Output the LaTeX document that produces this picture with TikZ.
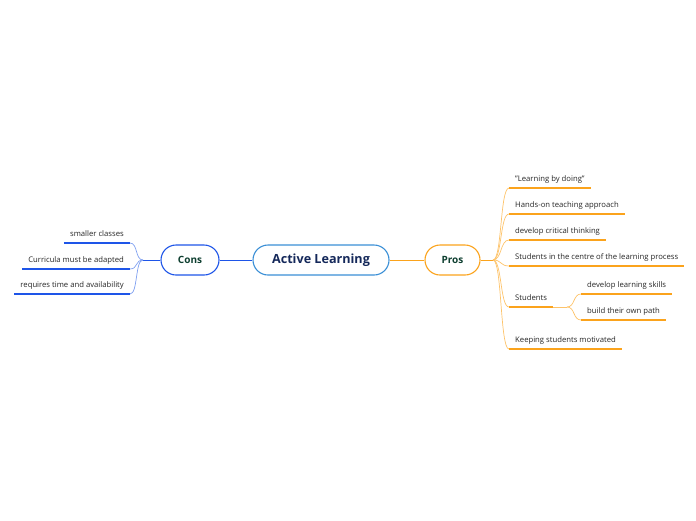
\documentclass[tikz,border=0pt]{standalone}
\usepackage{fontspec}
\setmainfont{Open Sans}
\definecolor{rootblue}{HTML}{3A8FD6}
\definecolor{rootnavy}{HTML}{14285A}
\definecolor{prosorange}{HTML}{FBA31C}
\definecolor{prosthin}{HTML}{FDC36A}
\definecolor{consblue}{HTML}{1E55E8}
\definecolor{consthin}{HTML}{7FA0F0}
\definecolor{maingreen}{HTML}{0E3F30}

\begin{document}
\begin{tikzpicture}[x=1pt,y=-1pt,
    root_node/.style={draw=rootblue, line width=1.1pt, rounded corners=15pt, minimum width=136pt, minimum height=30pt, fill=white, text=rootnavy, font=\bfseries\fontsize{12.6}{14}\selectfont},
    main_node/.style={line width=1.1pt, rounded corners=15pt, minimum height=30pt, fill=white, text=maingreen, font=\bfseries\fontsize{10}{12}\selectfont},
    leaf_node/.style={inner xsep=6pt, inner ysep=4pt, text height=6pt, text depth=2pt, text=black!85, font=\fontsize{7.7}{9}\selectfont},
    pros_line/.style={prosorange, line width=1.8pt},
    cons_line/.style={consblue, line width=1.8pt},
    pros_link/.style={prosthin, line width=0.7pt},
    cons_link/.style={consthin, line width=0.7pt}]
    \useasboundingbox (0,0) rectangle (696,520);
    % centre and main topics
    \node[root_node] (root) at (321,260) {Active Learning};
    \node[main_node, draw=prosorange, minimum width=55pt] (pros) at (452.5,260) {Pros};
    \node[main_node, draw=consblue, minimum width=58pt] (cons) at (190,260) {Cons};
    \coordinate (pj) at (493,260);
    \coordinate (cj) at (143,260);
    \draw[prosorange, line width=1pt] (root) -- (pros) -- (pj);
    \draw[consblue, line width=1pt] (root) -- (cons) -- (cj);
    % pros
    \node[leaf_node, anchor=south west] (p1) at (509,188) {"Learning by doing"};
    \node[leaf_node, anchor=south west] (p2) at (509,214) {Hands-on teaching approach};
    \node[leaf_node, anchor=south west] (p3) at (509,240) {develop critical thinking};
    \node[leaf_node, anchor=south west] (p4) at (509,266) {Students in the centre of the learning process};
    \node[leaf_node, anchor=south west] (p5) at (509,307) {Students};
    \node[leaf_node, anchor=south west] (p6) at (509,349) {Keeping students motivated};
    \node[leaf_node, anchor=south west] (s1) at (581,294) {develop learning skills};
    \node[leaf_node, anchor=south west] (s2) at (581,320) {build their own path};
    \coordinate (sj) at (567,307);
    \foreach \n in {p1,p2,p3,p4,p5,p6} {
        \draw[pros_link] (pj) .. controls +(9,0) and +(-9,0) .. (\n.south west);
        \draw[pros_line] (\n.south west) -- (\n.south east);
    }
    \draw[pros_link] (p5.south east) -- (sj);
    \foreach \n in {s1,s2} {
        \draw[pros_link] (sj) .. controls +(8,0) and +(-8,0) .. (\n.south west);
        \draw[pros_line] (\n.south west) -- (\n.south east);
    }
    % cons
    \node[leaf_node, anchor=south east] (c1) at (130,243) {smaller classes};
    \node[leaf_node, anchor=south east] (c2) at (130,269) {Curricula must be adapted};
    \node[leaf_node, anchor=south east] (c3) at (130,294) {requires time and availability};
    \foreach \n in {c1,c2,c3} {
        \draw[cons_link] (cj) .. controls +(-8,0) and +(8,0) .. (\n.south east);
        \draw[cons_line] (\n.south west) -- (\n.south east);
    }
\end{tikzpicture}
\end{document}
